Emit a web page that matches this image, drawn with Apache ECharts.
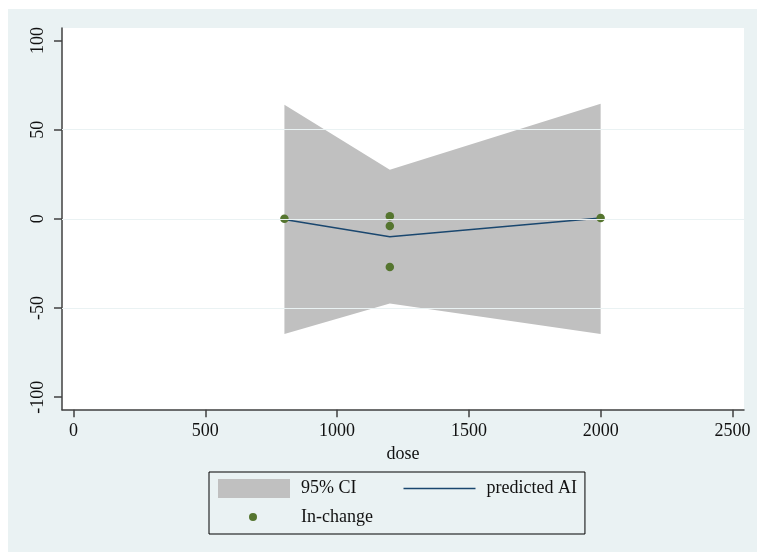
<!DOCTYPE html>
<html>
<head>
<meta charset="utf-8">
<script src="https://cdn.jsdelivr.net/npm/echarts@6/dist/echarts.min.js"></script>
<style>html,body{margin:0;padding:0;background:#fff}#c{width:757px;height:552px}</style>
</head>
<body>
<div id="c"></div>
<script>
// ---- data ----
var ciDose = [800, 1200, 2000];
var ciUpper = [64, 27.5, 64.5];
var ciLower = [-64.5, -47.5, -64.5];
var predDose = [800, 1200, 2000];
var predValues = [-0.3, -10, 0.5];
var obsDose = [800, 1200, 1200, 1200, 2000];
var obsValues = [0, 1.5, -4, -27, 0.5];
var xTicks = [0, 500, 1000, 1500, 2000, 2500];
var yTicks = [-100, -50, 0, 50, 100];
var yGrid = [-50, 0, 50];
var seriesNames = ['95% CI', 'predicted AI', 'In-change'];

var FONT = 'Liberation Serif';
var BG = '#eaf2f3';

var chart = echarts.init(document.getElementById('c'), null, {renderer: 'canvas'});

var ciPoly = [];
for (var i = 0; i < ciDose.length; i++) ciPoly.push([ciDose[i], ciUpper[i]]);
for (var j = ciDose.length - 1; j >= 0; j--) ciPoly.push([ciDose[j], ciLower[j]]);

function plain(v) { return String(v); }

var option = {
  backgroundColor: '#ffffff',
  animation: false,
  graphic: [{
    type: 'rect', left: 8, top: 9, z: -10,
    shape: {width: 749, height: 543},
    style: {fill: BG}
  }],
  grid: {
    left: 62, top: 28, width: 682, height: 381.7,
    show: true, backgroundColor: '#ffffff', borderWidth: 0
  },
  xAxis: {
    type: 'value', min: -44, max: 2544,
    name: 'dose', nameLocation: 'middle', nameGap: 34,
    nameTextStyle: {fontFamily: FONT, fontSize: 18, color: '#111'},
    axisLine: {show: true, onZero: false, lineStyle: {color: '#404040', width: 1.5}},
    axisTick: {show: true, length: 7.5, lineStyle: {color: '#404040', width: 1.5}, customValues: xTicks},
    axisLabel: {fontFamily: FONT, fontSize: 18, color: '#111', margin: 13, customValues: xTicks, formatter: plain},
    splitLine: {show: false}
  },
  yAxis: {
    type: 'value', min: -107, max: 107,
    axisLine: {show: true, onZero: false, lineStyle: {color: '#404040', width: 1.5}},
    axisTick: {show: true, length: 8, lineStyle: {color: '#404040', width: 1.5}, customValues: yTicks},
    axisLabel: {fontFamily: FONT, fontSize: 18, color: '#111', margin: 15, rotate: 90, customValues: yTicks, formatter: plain},
    splitLine: {show: false}
  },
  legend: [{
    data: [
      {name: seriesNames[0], icon: 'rect'},
      {name: seriesNames[1], icon: 'path://M0,0L70,0L70,1.5L0,1.5Z'}
    ],
    left: 209, top: 472,
    orient: 'horizontal',
    padding: [7, 8, 36, 9],
    borderColor: '#000', borderWidth: 1,
    itemWidth: 72, itemHeight: 19, itemGap: 47,
    textStyle: {fontFamily: FONT, fontSize: 18, color: '#111', padding: [0, 0, 0, 6]}
  }, {
    data: [{name: seriesNames[2], icon: 'circle', itemStyle: {opacity: 1}}],
    left: 249, top: 508,
    padding: 0,
    itemWidth: 8, itemHeight: 8,
    textStyle: {fontFamily: FONT, fontSize: 18, color: '#111', padding: [0, 0, 0, 39]}
  }],
  series: [{
    name: 'grid',
    type: 'line', data: [], z: 0, silent: true,
    markLine: {
      silent: true, symbol: 'none', label: {show: false},
      lineStyle: {color: BG, width: 1.2, type: 'solid'},
      data: yGrid.map(function (v) { return {yAxis: v}; })
    }
  }, {
    name: seriesNames[0],
    type: 'custom', z: 1, silent: true,
    itemStyle: {color: '#c0c0c0'},
    data: [0],
    renderItem: function (params, api) {
      var pts = ciPoly.map(function (p) { return api.coord(p); });
      return {type: 'polygon', shape: {points: pts}, style: {fill: '#c0c0c0'}};
    }
  }, {
    name: seriesNames[1],
    type: 'line', z: 2, symbol: 'none',
    lineStyle: {color: '#1a476f', width: 1.5},
    itemStyle: {color: '#1a476f'},
    data: predDose.map(function (d, k) { return [d, predValues[k]]; })
  }, {
    name: seriesNames[2],
    type: 'scatter', z: 3, symbol: 'circle', symbolSize: 8.5,
    itemStyle: {color: '#55752f', opacity: 1},
    data: obsDose.map(function (d, k) { return [d, obsValues[k]]; })
  }]
};
chart.setOption(option);
</script>
</body>
</html>
